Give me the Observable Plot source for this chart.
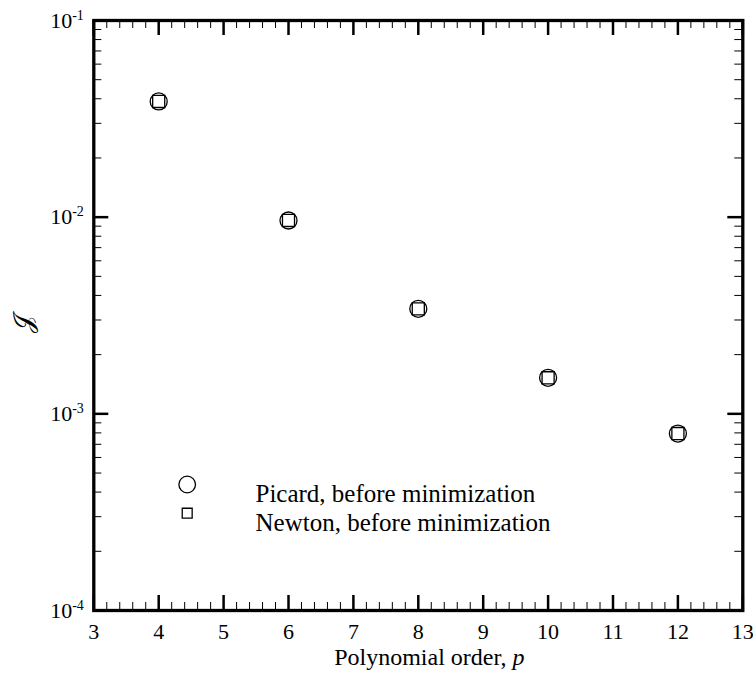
<!DOCTYPE html>
<html>
<head>
<meta charset="utf-8">
<script src="https://cdn.jsdelivr.net/npm/d3@7"></script>
<script src="https://cdn.jsdelivr.net/npm/@observablehq/plot@0.6"></script>
<style>
  html, body { margin: 0; padding: 0; background: #fff; }
  #chart svg { display: block; font-family: "Liberation Serif", "Times New Roman", serif; }
  #chart svg text { font-family: "Liberation Serif", "Times New Roman", serif; }
</style>
</head>
<body>
<div id="chart"></div>
<script>
// ---- data ----
const orders = [4, 6, 8, 10, 12];
const picard = [0.03875, 0.00962, 0.00342, 0.001525, 0.000794];
const newton = [0.03875, 0.00962, 0.00342, 0.001525, 0.000794];
const seriesNames = ["Picard, before minimization", "Newton, before minimization"];

// ---- ticks ----
const xMajor = [3, 4, 5, 6, 7, 8, 9, 10, 11, 12, 13];
const xMinor = d3.range(3, 13.001, 0.2).filter(v => Math.abs(v - Math.round(v)) > 1e-6);
const yMajor = [1e-4, 1e-3, 1e-2, 1e-1];
const yMinor = [1e-4, 1e-3, 1e-2].flatMap(d => [2, 3, 4, 5, 6, 7, 8, 9].map(k => k * d));
const yExponents = ["-4", "-3", "-2", "-1"];
const xTitle = ["Polynomial order, ", "p"];
const yTitle = "\u{1D4A5}";

const W = 753, H = 675;
const mL = 93.3, mR = 10.7, mT = 20, mB = 65;
const pw = W - mL - mR, ph = H - mT - mB;
const MAJ = 15, MIN = 8;

const picardData = orders.map((p, i) => ({p, v: picard[i]}));
const newtonData = orders.map((p, i) => ({p, v: newton[i]}));

const chart = Plot.plot({
  width: W,
  height: H,
  marginLeft: mL,
  marginRight: mR,
  marginTop: mT,
  marginBottom: mB,
  style: {fontFamily: "'Liberation Serif', serif", background: "#fff", color: "#000"},
  x: {domain: [3, 13], axis: null},
  y: {type: "log", domain: [1e-4, 1e-1], axis: null},
  marks: [
    // inward ticks on all four sides
    Plot.ruleX(xMajor, {x: d => d, insetTop: ph - MAJ, stroke: "#000", strokeWidth: 2.5}),
    Plot.ruleX(xMinor, {x: d => d, insetTop: ph - MIN, stroke: "#000", strokeWidth: 1}),
    Plot.ruleX(xMajor, {x: d => d, insetBottom: ph - MAJ, stroke: "#000", strokeWidth: 2.5}),
    Plot.ruleX(xMinor, {x: d => d, insetBottom: ph - MIN, stroke: "#000", strokeWidth: 1}),
    Plot.ruleY(yMajor, {y: d => d, insetRight: pw - MAJ, stroke: "#000", strokeWidth: 2.5}),
    Plot.ruleY(yMinor, {y: d => d, insetRight: pw - MIN, stroke: "#000", strokeWidth: 1}),
    Plot.ruleY(yMajor, {y: d => d, insetLeft: pw - MAJ, stroke: "#000", strokeWidth: 2.5}),
    Plot.ruleY(yMinor, {y: d => d, insetLeft: pw - MIN, stroke: "#000", strokeWidth: 1}),
    Plot.frame({stroke: "#000", strokeWidth: 3.3}),
    Plot.axisX({ticks: xMajor, tickSize: 0, tickPadding: 13, fontSize: 22, tickFormat: d => String(d), label: null}),
    Plot.axisY({ticks: yMajor, tickSize: 0, tickPadding: 10, fontSize: 22, tickFormat: d => "10^" + yExponents[yMajor.indexOf(d)], label: null}),
    // data markers
    Plot.dot(picardData, {x: "p", y: "v", symbol: "circle", r: 8.5, stroke: "#000", strokeWidth: 1.3, fill: "none"}),
    Plot.dot(newtonData, {x: "p", y: "v", symbol: "square", r: 6.8, stroke: "#000", strokeWidth: 1.3, fill: "none"}),
    // legend
    Plot.dot([seriesNames[0]], {frameAnchor: "top-left", dx: 93.4, dy: 464, symbol: "circle", r: 8.3, stroke: "#000", strokeWidth: 1.3, fill: "none"}),
    Plot.dot([seriesNames[1]], {frameAnchor: "top-left", dx: 93.4, dy: 492.7, symbol: "square", r: 5.6, stroke: "#000", strokeWidth: 1.3, fill: "none"}),
    Plot.text([seriesNames[0]], {frameAnchor: "top-left", dx: 161.7, dy: 464, text: d => d, textAnchor: "start", fontSize: 25, fill: "#000"}),
    Plot.text([seriesNames[1]], {frameAnchor: "top-left", dx: 161.7, dy: 492.7, text: d => d, textAnchor: "start", fontSize: 25, fill: "#000"}),
    // axis titles
    Plot.text([xTitle.join("")], {frameAnchor: "bottom", dx: 11, dy: 54, text: d => d, fontSize: 24, fill: "#000"}),
    Plot.text([yTitle], {frameAnchor: "left", dx: -70, dy: 17, text: d => d, fontSize: 26, rotate: -90, fill: "#000"})
  ]
});

// superscript exponents on y tick labels, italic p in x title
d3.select(chart).selectAll("text").each(function() {
  const t = d3.select(this);
  const s = t.text();
  if (/^10\^/.test(s)) {
    const [base, exp] = s.split("^");
    t.text(null);
    t.append("tspan").text(base);
    t.append("tspan").attr("dy", "-8").attr("font-size", "14").text(exp);
  } else if (s === xTitle.join("")) {
    t.text(null);
    t.append("tspan").text(xTitle[0]);
    t.append("tspan").attr("font-style", "italic").text(xTitle[1]);
  }
});

document.getElementById("chart").appendChild(chart);
</script>
</body>
</html>
